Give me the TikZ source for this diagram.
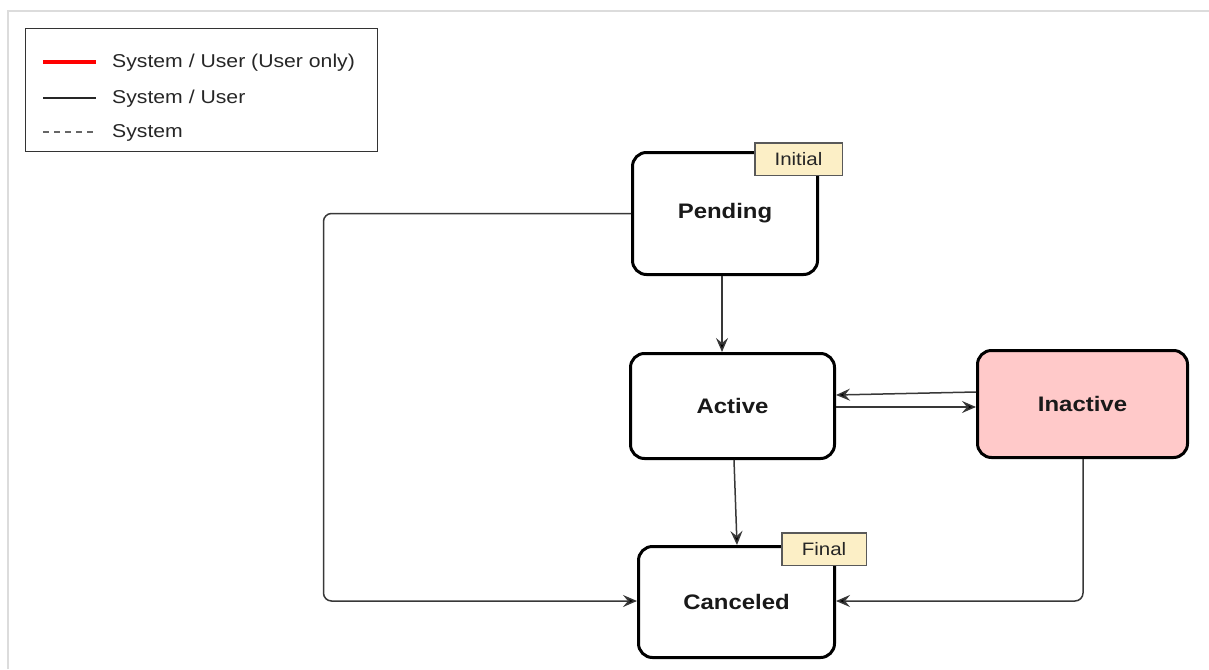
\documentclass[tikz,border=0pt]{standalone}
\usepackage{fontspec}
\setmainfont{Liberation Sans}[FakeStretch=1.14]
\usetikzlibrary{arrows.meta}
\definecolor{conncol}{HTML}{383838}
\definecolor{tagfill}{HTML}{FCEFC6}
\definecolor{inactfill}{HTML}{FFC9C9}
\definecolor{framecol}{HTML}{DCDCDC}
\tikzset{
  statebox/.style={draw=black, line width=3pt, rounded corners=14pt, fill=white,
    font=\fontsize{21}{24}\selectfont\bfseries, text=black!90, inner sep=0pt},
  tagbox/.style={draw=black!65, line width=1.5pt, fill=tagfill,
    font=\fontsize{18}{21}\selectfont, text=black!85, inner sep=0pt,
    minimum width=87.5pt, minimum height=32.5pt},
  conn/.style={draw=conncol, line width=1.5pt, -{Stealth[length=14pt,width=12pt,inset=5pt,fill=black]}},
  legtext/.style={anchor=west, font=\fontsize{18.6}{21}\selectfont, text=black!85, inner sep=0pt},
}
\begin{document}
\begin{tikzpicture}[x=1pt,y=-1pt]
\useasboundingbox (0,0) rectangle (1209,669);
% outer frame
\draw[framecol, line width=2pt] (8,669) -- (8,11) -- (1209,11);
% legend
\node[draw=black!80, line width=1.5pt, minimum width=352pt, minimum height=123pt, inner sep=0pt] (legend) at (201.5,90) {};
\coordinate (l1a) at (43,62); \coordinate (l1b) at (96,62);
\coordinate (l2a) at (43,98); \coordinate (l2b) at (96,98);
\coordinate (l3a) at (43,132); \coordinate (l3b) at (96,132);
\draw[red, line width=3.5pt] (l1a) -- (l1b);
\draw[black!85, line width=1.3pt] (l2a) -- (l2b);
\draw[black!60, line width=1.3pt, dash pattern=on 6pt off 5pt] (l3a) -- (l3b);
\node[legtext] (t1) at (112,63) {System / User (User only)};
\node[legtext] (t2) at (112,99) {System / User};
\node[legtext] (t3) at (112,133) {System};
% states
\node[statebox, minimum width=185pt, minimum height=122pt] (pending) at (725,213.5) {Pending};
\node[statebox, minimum width=204pt, minimum height=105pt] (active) at (732.5,406) {Active};
\node[statebox, minimum width=210pt, minimum height=107pt, fill=inactfill] (inactive) at (1082.5,404) {Inactive};
\node[statebox, minimum width=196pt, minimum height=111pt] (canceled) at (736.5,602) {Canceled};
% tags
\node[tagbox] (initial) at (798.5,159) {Initial};
\node[tagbox, minimum width=84.5pt] (final) at (824,549) {Final};
% connectors
\draw[conn] ([xshift=-3pt]pending.south) -- ([xshift=-10.5pt]active.north);
\draw[conn, rounded corners=8pt] (pending.west) -- ++(-307.5,0) |- ([yshift=1pt]canceled.west);
\draw[conn] ([yshift=12pt]inactive.west) -- ([yshift=11pt]active.east);
\draw[conn] ([yshift=-1pt]active.east) -- ([yshift=-3pt]inactive.west);
\draw[conn] ([xshift=1.5pt]active.south) -- ([xshift=0.5pt]canceled.north);
\draw[conn, rounded corners=8pt] ([xshift=0.5pt]inactive.south) |- ([yshift=1pt]canceled.east);
\end{tikzpicture}
\end{document}
